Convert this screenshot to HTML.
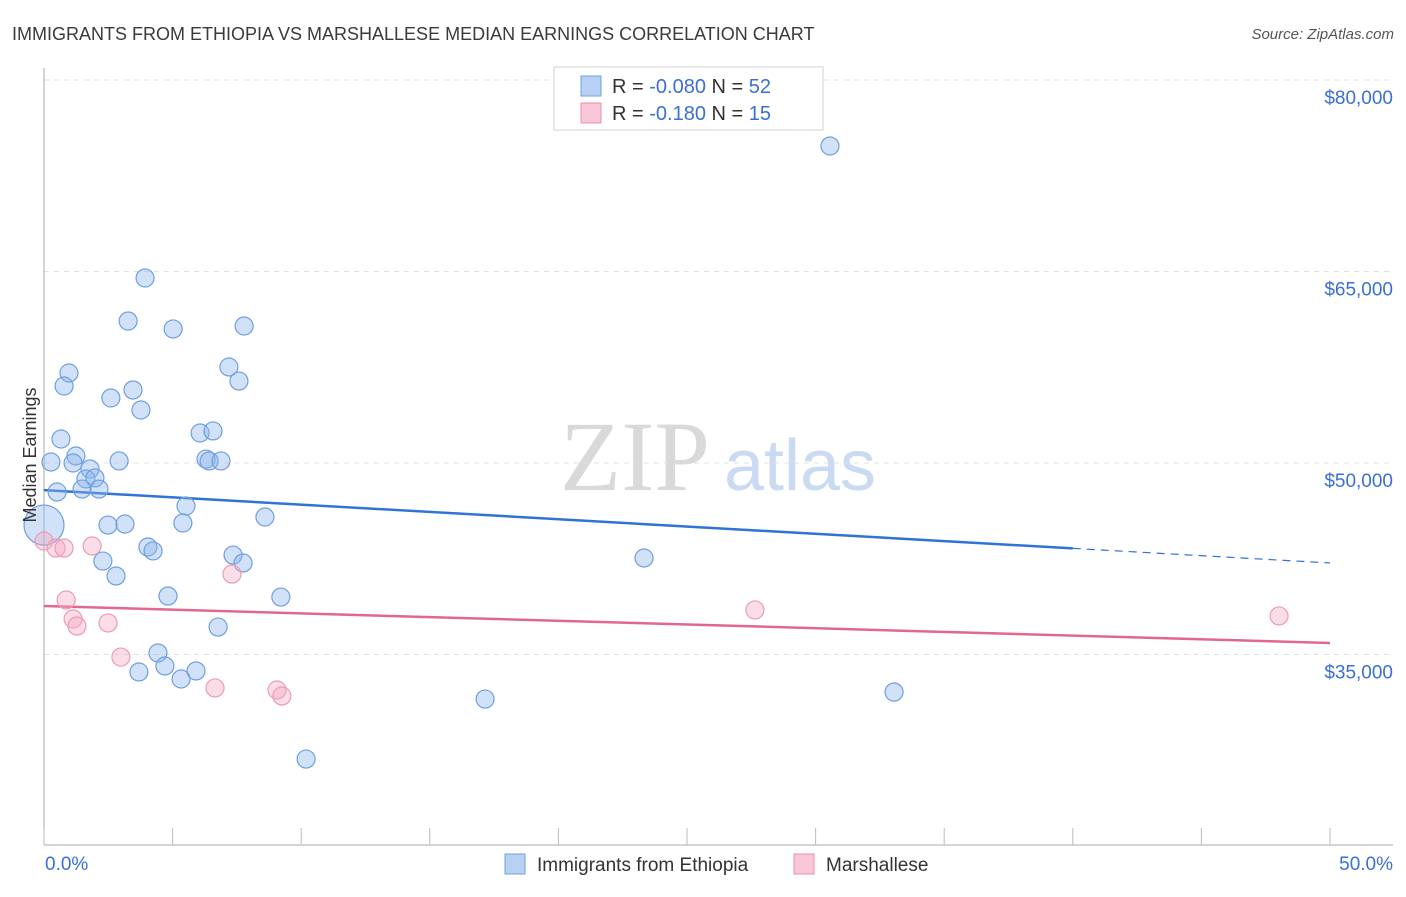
<!DOCTYPE html>
<html><head><meta charset="utf-8"><style>
body{margin:0;background:#fff;font-family:"Liberation Sans",sans-serif}
</style></head><body>
<svg width="1406" height="892" xmlns="http://www.w3.org/2000/svg" font-family="Liberation Sans, sans-serif">
<text x="12" y="40" font-size="18" fill="#3a3a3a">IMMIGRANTS FROM ETHIOPIA VS MARSHALLESE MEDIAN EARNINGS CORRELATION CHART</text>
<text x="1394" y="39" font-size="15" fill="#555" font-style="italic" text-anchor="end">Source: ZipAtlas.com</text>
<g>
<text x="635" y="490" font-size="100" font-family="Liberation Serif, serif" fill="#d9d9d9" text-anchor="middle">ZIP</text>
<text x="800" y="490" font-size="72" fill="#c9daf2" text-anchor="middle">atlas</text>
</g>
<g id="grid"></g>
<g id="axes"></g>
<g id="trend"></g>
<g id="pts"></g>
<g>
<rect x="554" y="67" width="269" height="63" fill="#fff" stroke="#d0d0d0"/>
<rect x="581" y="76" width="20" height="20" fill="#b7d0f3" stroke="#6f9fe0"/>
<rect x="581" y="103" width="20" height="20" fill="#f8c6d6" stroke="#e890ab"/>
<text x="612" y="93" font-size="20" fill="#333">R = <tspan fill="#3a6fd8">-0.080</tspan>   N = <tspan fill="#3a6fd8">52</tspan></text>
<text x="612" y="120" font-size="20" fill="#333">R =  <tspan fill="#3a6fd8">-0.180</tspan>   N =  <tspan fill="#3a6fd8">15</tspan></text>
</g>
<g>
<rect x="505" y="854" width="20" height="20" fill="#b7d0f3" stroke="#6f9fe0"/>
<text x="537" y="871" font-size="19" fill="#333">Immigrants from Ethiopia</text>
<rect x="794" y="854" width="20" height="20" fill="#f8c6d6" stroke="#e890ab"/>
<text x="826" y="871" font-size="19" fill="#333">Marshallese</text>
</g>
<text x="36" y="455" font-size="18" fill="#333" text-anchor="middle" transform="rotate(-90 36 455)">Median Earnings</text>
</svg>
<script>
const yTicks=[80000,65000,50000,35000];
const yTickLabels=["$80,000","$65,000","$50,000","$35,000"];
const xTickLabels=["0.0%","50.0%"];
const ethX=[30.56,3.93,3.27,5.02,7.78,0.97,0.78,7.19,7.58,3.46,2.60,3.77,0.66,0.27,1.24,1.13,2.92,6.07,6.57,6.30,6.42,6.88,1.79,1.63,1.98,0.51,1.48,2.14,5.52,8.59,2.49,3.15,5.40,4.04,4.24,7.35,2.29,7.74,23.33,2.80,4.82,9.21,6.77,4.43,4.70,3.69,5.33,5.91,17.15,33.05,10.19,0];
const ethY=[74830,64490,61120,60500,60730,57050,56030,57520,56420,55720,55090,54150,51880,50080,50550,50000,50160,52350,52510,50310,50160,50160,49530,48750,48830,47730,47960,47960,46630,45770,45140,45220,45300,43420,43110,42790,42320,42170,42560,41150,39580,39500,37150,35120,34100,33630,33080,33710,31510,32060,26810,45140];
const marX=[0,0.47,0.78,1.87,7.31,0.86,1.13,1.28,2.49,2.99,6.65,9.06,9.25,27.64,48.02];
const marY=[43890,43340,43340,43500,41300,39270,37780,37230,37470,34800,32380,32220,31750,38490,38020];
const ethTrend=[47880,42170]; // values at 0% and 50%
const marTrend=[38800,35900];
const X=p=>44+p/50*1286;
const Y=v=>80+(80000-v)/15000*191.5;
const NS="http://www.w3.org/2000/svg";
function mk(tag,attrs,parent){const e=document.createElementNS(NS,tag);for(const k in attrs)e.setAttribute(k,attrs[k]);document.getElementById(parent).appendChild(e);return e;}
yTicks.forEach((v,i)=>{
 const l=mk('line',{x1:44,x2:1393,y1:Y(v),y2:Y(v),stroke:'#e0e0e0','stroke-dasharray':'5,5'},'grid');
 
 
 const t=mk('text',{x:1393,y:Y(v)+24,'text-anchor':'end','font-size':19,fill:'#3a6fd8'},'grid');
 t.textContent=yTickLabels[i];
 
 
});
const ya=mk('line',{x1:44,x2:44,y1:68,y2:845,stroke:'#aaa'},'axes');


const xa=mk('line',{x1:44,x2:1393,y1:845,y2:845,stroke:'#aaa'},'axes');


for(let i=0;i<=10;i++){
 const tk=mk('line',{x1:X(i*5),x2:X(i*5),y1:828,y2:845,stroke:'#bbb'},'axes');
 
 
}
const xl0=mk('text',{x:45,y:870,'font-size':19,fill:'#3a6fd8'},'axes');xl0.textContent=xTickLabels[0];


const xl1=mk('text',{x:1393,y:870,'font-size':19,fill:'#3a6fd8','text-anchor':'end'},'axes');xl1.textContent=xTickLabels[1];


const ey=p=>ethTrend[0]+(ethTrend[1]-ethTrend[0])*p/50;
const t1=mk('line',{x1:X(0),y1:Y(ey(0)),x2:X(40),y2:Y(ey(40)),stroke:'#2f72d8','stroke-width':2.5},'trend');


const t2=mk('line',{x1:X(40),y1:Y(ey(40)),x2:X(50),y2:Y(ey(50)),stroke:'#2f72d8','stroke-width':1.2,'stroke-dasharray':'8,6'},'trend');


const t3=mk('line',{x1:X(0),y1:Y(marTrend[0]),x2:X(50),y2:Y(marTrend[1]),stroke:'#e2668f','stroke-width':2.5},'trend');


ethX.forEach((x,i)=>{
 const c=mk('circle',{cx:X(x),cy:Y(ethY[i]),r:(x===0?20:9),fill:'rgba(140,180,235,0.4)',stroke:'#6f9fe0','stroke-width':1.2},'pts');
 
 
});
marX.forEach((x,i)=>{
 const c=mk('circle',{cx:X(x),cy:Y(marY[i]),r:9,fill:'rgba(245,170,195,0.4)',stroke:'#ec9bb4','stroke-width':1.2},'pts');
 
 
});
</script>
</body></html>
